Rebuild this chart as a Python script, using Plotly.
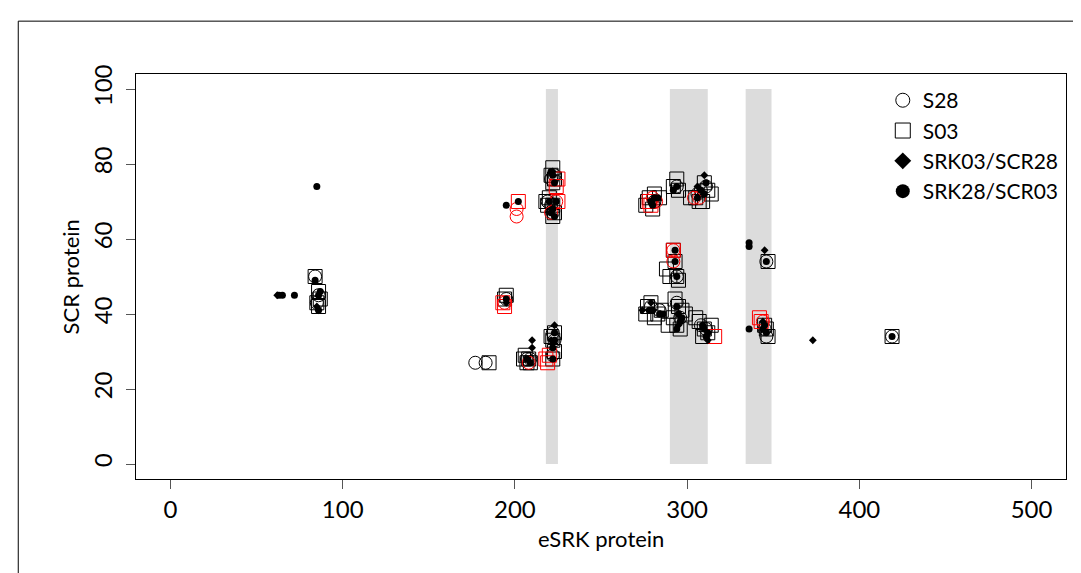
import plotly.graph_objects as go

# ---------------- data ----------------
# S03 (open squares, black)
s03_x = [84, 86, 87, 85, 86, 195, 194, 222, 221, 223, 222, 218, 220, 222, 223, 222, 219,
         185, 205, 207, 206, 208, 209, 222, 223, 222, 223, 221,
         276, 278, 281, 284, 280, 277, 294, 292, 295,
         305, 310, 312, 314, 307, 302, 309,
         292, 293, 294, 288, 290, 295, 347,
         277, 279, 283, 285, 276, 281,
         293, 295, 297, 292, 294, 296, 299, 289,
         307, 310, 312, 314, 309, 305, 345, 347, 346, 419]
s03_y = [50, 46, 44, 43, 42, 45, 44, 79, 77, 76, 75, 70, 71, 69, 67, 66, 69,
         27, 28, 27, 29, 28, 27, 28, 30, 33, 35, 34,
         69, 71, 72, 71, 68, 70, 76, 74, 73,
         71, 75, 73, 72, 70, 71, 70,
         57, 54, 50, 52, 50, 49, 54,
         42, 43, 40, 41, 40, 39,
         44, 42, 41, 39, 37, 36, 40, 37,
         38, 36, 35, 37, 34, 39, 37, 34, 36, 34]

# S28 (open circles, black)
s28_x = [84, 86, 85, 195, 221, 223, 219, 221, 222, 177, 183, 207, 209, 222, 223, 222,
         281, 294, 308, 311, 306, 294, 346, 279, 284, 294, 296, 311, 308, 346, 345, 419]
s28_y = [50, 45, 43, 44, 76, 77, 70, 69, 67, 27, 27, 28, 28, 29, 33, 35,
         70, 74, 73, 74, 72, 50, 54, 42, 41, 43, 39, 36, 37, 34, 36, 34]

# S03 red squares
s03r_x = [193, 194, 202, 225, 224, 225, 218, 220, 219, 279, 278, 292, 316, 342, 343]
s03r_y = [43, 42, 70, 76, 74, 70, 28, 29, 27, 69, 70, 57, 34, 39, 38]

# S28 red circles
s28r_x = [194, 201, 201, 221, 224, 208, 280, 282, 304, 307, 292, 292, 344]
s28r_y = [43, 66, 68, 67, 70, 27, 71, 70, 71, 71, 57, 54, 38]

# SRK03/SCR28 (filled diamonds)
dia_x = [62, 86, 85, 195, 222, 210, 210, 223, 221, 310, 306, 345, 279, 274, 295, 312, 344, 373]
dia_y = [45, 41, 42, 43, 78, 33, 31, 37, 33, 77, 74, 57, 43, 41, 37, 33, 38, 33]

# SRK28/SCR03 (filled dots)
dot_x = [85, 84, 86, 87, 72, 63, 65, 86, 195, 202, 195,
         222, 223, 221, 220, 222, 223, 224, 221, 207, 209,
         222, 223, 223, 222, 279, 281, 283, 280, 294, 292,
         308, 310, 306, 311, 293, 293, 294, 336, 336, 346,
         278, 280, 284, 286, 294, 295, 296, 294, 297,
         310, 312, 309, 311, 336, 345, 346, 344, 419]
dot_y = [74, 49, 45, 46, 45, 45, 45, 41, 44, 70, 69,
         77, 75, 78, 70, 68, 66, 70, 67, 28, 27,
         28, 33, 35, 31, 70, 71, 71, 69, 74, 73,
         73, 72, 71, 75, 57, 54, 50, 59, 58, 54,
         41, 41, 40, 40, 42, 40, 38, 36, 39,
         36, 35, 37, 34, 36, 37, 35, 36, 34]

# grey bands along the x axis
band_starts = [218, 290, 334]
band_ends = [225, 312, 349]

x_ticks = [0, 100, 200, 300, 400, 500]
y_ticks = [0, 20, 40, 60, 80, 100]

legend_names = ["S28", "S03", "SRK03/SCR28", "SRK28/SCR03"]

# ---------------- figure ----------------
FONT = "Lato"
fig = go.Figure()

open_line = dict(width=1, color="black")
red_line = dict(width=1, color="#FF0000")

fig.add_trace(go.Scatter(x=s03_x, y=s03_y, mode="markers", showlegend=False,
                         marker=dict(symbol="square-open", size=14, line=open_line, color="black")))
fig.add_trace(go.Scatter(x=s28_x, y=s28_y, mode="markers", showlegend=False,
                         marker=dict(symbol="circle-open", size=13, line=open_line, color="black")))
fig.add_trace(go.Scatter(x=s03r_x, y=s03r_y, mode="markers", showlegend=False,
                         marker=dict(symbol="square-open", size=14, line=red_line, color="#FF0000")))
fig.add_trace(go.Scatter(x=s28r_x, y=s28r_y, mode="markers", showlegend=False,
                         marker=dict(symbol="circle-open", size=13, line=red_line, color="#FF0000")))
fig.add_trace(go.Scatter(x=dia_x, y=dia_y, mode="markers", showlegend=False,
                         marker=dict(symbol="diamond", size=6, color="black", line=dict(width=0))))
fig.add_trace(go.Scatter(x=dot_x, y=dot_y, mode="markers", showlegend=False,
                         marker=dict(symbol="circle", size=7, color="black", line=dict(width=0))))

# legend-only traces
leg_markers = [
    dict(symbol="circle-open", size=14, color="black", line=dict(width=1, color="black")),
    dict(symbol="square-open", size=15, color="black", line=dict(width=1, color="black")),
    dict(symbol="diamond", size=13, color="black", line=dict(width=0)),
    dict(symbol="circle", size=14, color="black", line=dict(width=0)),
]
for name, mk in zip(legend_names, leg_markers):
    fig.add_trace(go.Scatter(x=[None], y=[None], mode="markers", name=name, marker=mk))

shapes = []
for a, b in zip(band_starts, band_ends):
    shapes.append(dict(type="rect", xref="x", yref="y", x0=a, x1=b, y0=0, y1=100,
                       fillcolor="#DCDCDC", line=dict(width=0), layer="below"))
# outer frame of the figure
shapes.append(dict(type="rect", xref="paper", yref="paper", x0=-0.1266, x1=1.05, y0=-0.3, y1=1.1305,
                   line=dict(color="black", width=1), fillcolor="rgba(0,0,0,0)"))

axis_common = dict(showgrid=False, zeroline=False, showline=True, mirror=True,
                   linecolor="black", linewidth=1, ticks="outside", ticklen=9,
                   tickwidth=1, tickcolor="#555555",
                   tickfont=dict(family=FONT, size=24, color="black"))

fig.update_layout(
    width=1081, height=573,
    margin=dict(l=128, r=23, t=66, b=102),
    paper_bgcolor="white", plot_bgcolor="white",
    font=dict(family=FONT, size=23, color="black"),
    shapes=shapes,
    xaxis=dict(range=[-20, 520], tickmode="array", tickvals=x_ticks,
               ticktext=[str(t) for t in x_ticks], **axis_common),
    yaxis=dict(range=[-4, 104], tickmode="array", tickvals=y_ticks,
               ticktext=[str(t) for t in y_ticks], tickangle=-90,
               ticklabelstandoff=4, **axis_common),
    legend=dict(x=0.803, y=0.985, xanchor="left", yanchor="top",
                bgcolor="rgba(0,0,0,0)", borderwidth=0,
                font=dict(family=FONT, size=21, color="black"),
                tracegroupgap=0, itemwidth=30),
    annotations=[
        dict(text="eSRK protein", xref="paper", yref="paper", x=0.5, y=-0.146,
             showarrow=False, xanchor="center", yanchor="middle",
             font=dict(family=FONT, size=22, color="black")),
        dict(text="SCR protein", xref="paper", yref="paper", x=-0.07, y=0.5,
             showarrow=False, xanchor="center", yanchor="middle", textangle=-90,
             font=dict(family=FONT, size=22, color="black")),
    ],
)

fig.write_html("out.html")
